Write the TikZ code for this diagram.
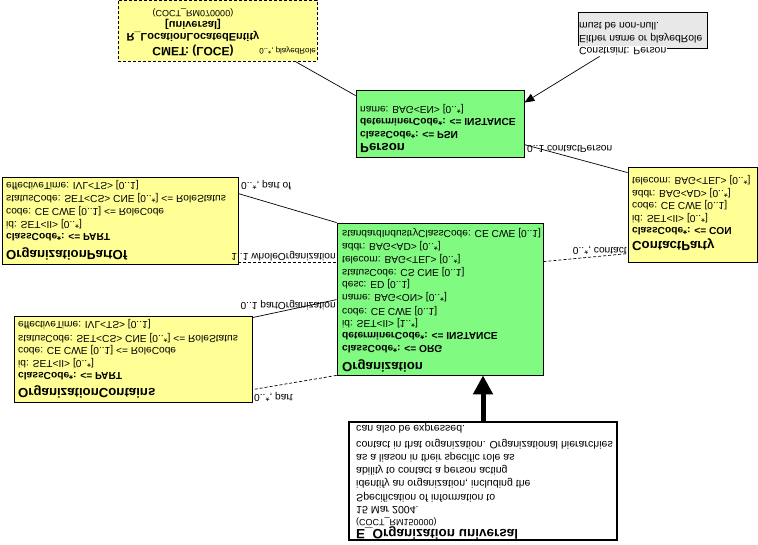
\documentclass[tikz,border=0pt]{standalone}
\usepackage{fontspec}
\setmainfont{Liberation Sans}
\usetikzlibrary{arrows.meta}
\definecolor{umlgreen}{RGB}{128,250,128}
\definecolor{umlyellow}{RGB}{255,255,150}
\definecolor{notegrey}{RGB}{232,232,232}
\begin{document}
\begin{tikzpicture}[x=1pt,y=-1pt,
  boxbase/.style={draw=black, line width=0.8pt, inner sep=0pt},
  gbox/.style={boxbase, fill=umlgreen},
  ybox/.style={boxbase, fill=umlyellow},
  txt/.style={yscale=-1, anchor=west, inner sep=0pt, font=\fontsize{10.2}{12}\selectfont},
  txtb/.style={txt, font=\bfseries\fontsize{10.2}{12}\selectfont},
  ttl/.style={txt, font=\bfseries\fontsize{13.2}{15}\selectfont},
  ctxt/.style={yscale=-1, anchor=center, inner sep=0pt, font=\bfseries\fontsize{11}{13}\selectfont},
  lbl/.style={txt},
  conn/.style={draw=black, line width=0.7pt},
  dconn/.style={conn, dash pattern=on 3pt off 2pt}
]
\useasboundingbox (0,0) rectangle (758,545);

% ---------- boxes ----------
\node[ybox, dash pattern=on 3pt off 2pt, minimum width=199pt, minimum height=61pt] (cmet) at (217.5,31) {};
\node[boxbase, fill=notegrey, minimum width=129pt, minimum height=36pt] (note) at (642.5,30) {};
\node[gbox, minimum width=168pt, minimum height=67pt] (person) at (440,123.5) {};
\node[ybox, minimum width=129pt, minimum height=95pt] (contact) at (692.5,214.5) {};
\node[gbox, minimum width=206pt, minimum height=152pt] (org) at (440,299) {};
\node[ybox, minimum width=236pt, minimum height=87pt] (partof) at (120,220.5) {};
\node[ybox, minimum width=238pt, minimum height=86pt] (contains) at (133,359) {};
\node[boxbase, line width=2pt, fill=white, minimum width=268pt, minimum height=118pt] (eorg) at (483,481) {};

% ---------- connectors ----------
\draw[conn] ([yshift=-6pt]person.north west) -- ([xshift=78.5pt]cmet.south);
\draw[conn, -{Triangle[length=10pt,width=8pt]}] ([xshift=22pt,yshift=-8pt]note.south west) -- ([yshift=-13pt]person.north east);
\draw[conn] ([yshift=-55pt]person.north east) -- ([yshift=-6pt]contact.north west);
\draw[dconn] ([yshift=-39pt]org.north east) -- ([yshift=-87pt]contact.north west);
\draw[conn] ([yshift=-17pt]partof.north east) -- (org.north west);
\draw[dconn] ([yshift=-86pt]partof.north east) -- ([yshift=-40pt]org.north west);
\draw[conn] ([yshift=-77pt]org.north west) -- ([yshift=-2pt]contains.north east);
\draw[dconn] (org.south west) -- ([yshift=-74pt]contains.north east);
\draw[line width=5pt, -{Triangle[length=19pt,width=19pt]}] (eorg.north) -- ([xshift=43pt]org.south);

% ---------- CMET text ----------
\node[ctxt, font=\bfseries\fontsize{12}{14}\selectfont] (cm1) at (193,51) {CMET: (LOCE)};
\node[ctxt] (cm2) at (193,36.5) {R\_LocationLocatedEntity};
\node[ctxt] (cm3) at (193,24) {[universal]};
\node[ctxt, font=\fontsize{9}{10}\selectfont] (cm4) at (193,13) {(COCT\_RM070000)};
\node[lbl, anchor=east, font=\fontsize{8}{9}\selectfont] (lplayed) at (316,51) {0..*, playedRole};

% ---------- note text ----------
\node[txt, font=\fontsize{10.4}{12}\selectfont] (n2) at (579,38) {Either name or playedRole};
\node[txt, font=\fontsize{10.4}{12}\selectfont] (n3) at (579,26) {must be non-null.};
\node[txt, font=\fontsize{10.4}{12}\selectfont, fill=white, inner xsep=1pt, inner ysep=1.5pt] (n1) at (578,51) {Constraint: Person};

% ---------- Person ----------
\node[ttl] (p0) at (360,148) {Person};
\node[txtb] (p1) at (360,135) {classCode*: <= PSN};
\node[txtb] (p2) at (360,122) {determinerCode*: <= INSTANCE};
\node[txt] (p3) at (360,109) {name: BAG<EN> [0..*]};

% ---------- ContactParty ----------
\node[ttl] (c0) at (632,245) {ContactParty};
\node[txtb] (c1) at (632,231) {classCode*: <= CON};
\node[txt] (c2) at (632,218) {id: SET<II> [0..*]};
\node[txt] (c3) at (632,205.5) {code: CE CWE [0..1]};
\node[txt] (c4) at (632,193) {addr: BAG<AD> [0..*]};
\node[txt] (c5) at (632,180) {telecom: BAG<TEL> [0..*]};

% ---------- Organization ----------
\node[ttl] (o0) at (342,365.5) {Organization};
\node[txtb] (o1) at (342,349.5) {classCode*: <= ORG};
\node[txtb] (o2) at (342,336.5) {determinerCode*: <= INSTANCE};
\node[txt] (o3) at (342,323) {id: SET<II> [1..*]};
\node[txt] (o4) at (342,311) {code: CE CWE [0..1]};
\node[txt] (o5) at (342,297.5) {name: BAG<ON> [0..*]};
\node[txt] (o6) at (342,284.5) {desc: ED [0..1]};
\node[txt] (o7) at (342,272) {statusCode: CS CNE [0..1]};
\node[txt] (o8) at (342,259) {telecom: BAG<TEL> [0..*]};
\node[txt] (o9) at (342,246.5) {addr: BAG<AD> [0..*]};
\node[txt] (o10) at (342,233) {standardIndustryClassCode: CE CWE [0..1]};

% ---------- OrganizationPartOf ----------
\node[ttl] (a0) at (6,254) {OrganizationPartOf};
\node[txtb] (a1) at (6,237) {classCode*: <= PART};
\node[txt] (a2) at (6,224) {id: SET<II> [0..*]};
\node[txt] (a3) at (6,211.5) {code: CE CWE [0..1] <= RoleCode};
\node[txt] (a4) at (6,198.5) {statusCode: SET<CS> CNE [0..*] <= RoleStatus};
\node[txt] (a5) at (6,185.5) {effectiveTime: IVL<TS> [0..1]};

% ---------- OrganizationContains ----------
\node[ttl] (b0) at (18,392) {OrganizationContains};
\node[txtb] (b1) at (18,376) {classCode*: <= PART};
\node[txt] (b2) at (18,363.5) {id: SET<II> [0..*]};
\node[txt] (b3) at (18,350.5) {code: CE CWE [0..1] <= RoleCode};
\node[txt] (b4) at (18,338) {statusCode: SET<CS> CNE [0..*] <= RoleStatus};
\node[txt] (b5) at (18,324.5) {effectiveTime: IVL<TS> [0..1]};

% ---------- E_Organization universal ----------
\node[ttl, font=\bfseries\fontsize{13.5}{15}\selectfont] (e0) at (356,533) {E\_Organization universal};
\node[txt, font=\fontsize{9}{10}\selectfont] (e1) at (356,522) {(COCT\_RM150000)};
\node[txt, font=\fontsize{10.6}{12}\selectfont] (e2) at (356,510) {15 Mar 2004.};
\node[txt, font=\fontsize{10.6}{12}\selectfont] (e3) at (356,497) {Specification of information to};
\node[txt, font=\fontsize{10.6}{12}\selectfont] (e4) at (356,483.5) {identify an organization, including the};
\node[txt, font=\fontsize{10.6}{12}\selectfont] (e5) at (356,470.5) {ability to contact a person acting};
\node[txt, font=\fontsize{10.6}{12}\selectfont] (e6) at (356,457.5) {as a liason in their specific role as};
\node[txt, font=\fontsize{10.6}{12}\selectfont] (e7) at (356,444) {contact in that organization. Organizational hierarchies};
\node[txt, font=\fontsize{10.6}{12}\selectfont] (e8) at (356,428.5) {can also be expressed.};

% ---------- connector labels ----------
\node[lbl] (lcp) at (527,149) {0..1 contactPerson};
\node[lbl, anchor=east] (lct) at (627,250) {0..*, contact};
\node[lbl] (lpo) at (241,185) {0..*, part of};
\node[lbl, anchor=east] (lwo) at (336,256) {1..1 wholeOrganization};
\node[lbl, anchor=east] (lpog) at (336,305) {0..1 partOrganization};
\node[lbl] (lpt) at (254,397) {0..*, part};
\end{tikzpicture}
\end{document}
